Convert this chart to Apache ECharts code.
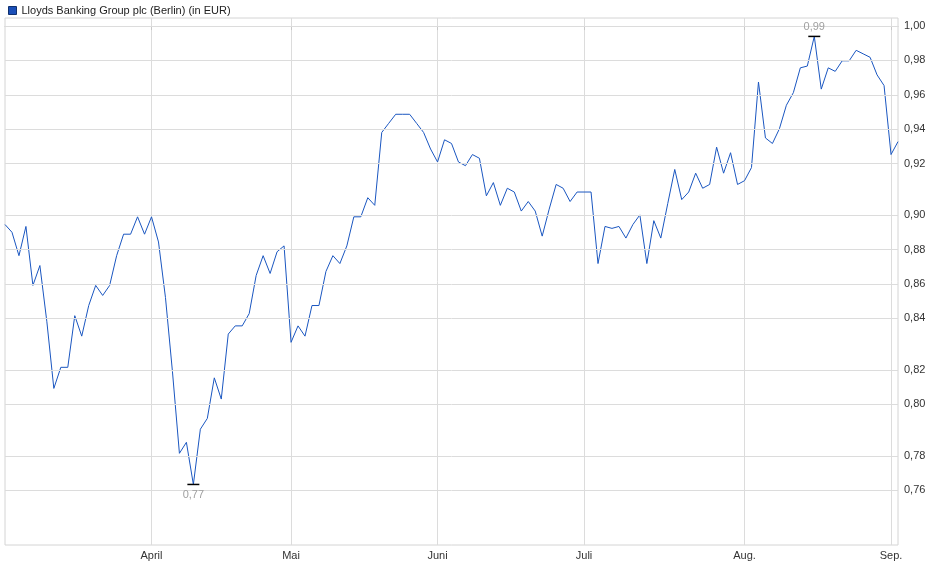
<!DOCTYPE html>
<html>
<head>
<meta charset="utf-8">
<script src="https://cdn.jsdelivr.net/npm/echarts@6/dist/echarts.min.js"></script>
<style>html,body{margin:0;padding:0;background:#fff}#c{width:940px;height:579px}</style>
</head>
<body>
<div id="c"></div>
<script>
// daily closes
const prices = [
  0.891, 0.887, 0.875, 0.890, 0.860, 0.870, 0.842, 0.810, 0.820, 0.820,
  0.845, 0.835, 0.850, 0.860, 0.855, 0.860, 0.875, 0.886, 0.886, 0.895,
  0.886, 0.895, 0.882, 0.854, 0.818, 0.780, 0.785, 0.766, 0.791, 0.796,
  0.815, 0.805, 0.836, 0.840, 0.840, 0.846, 0.865, 0.875, 0.866, 0.877,
  0.880, 0.832, 0.840,
  0.835, 0.850, 0.850, 0.867, 0.875, 0.871, 0.880, 0.895, 0.895, 0.905,
  0.901, 0.940, 0.945, 0.950, 0.950, 0.950, 0.945, 0.940, 0.931, 0.924,
  0.936, 0.934, 0.924, 0.922, 0.928, 0.926, 0.906, 0.913, 0.901, 0.910,
  0.908, 0.898, 0.903, 0.898, 0.885, 0.899, 0.912, 0.910, 0.903, 0.908,
  0.908, 0.908, 0.871, 0.890,
  0.889, 0.890, 0.884, 0.891, 0.896, 0.871, 0.893, 0.884, 0.902, 0.920,
  0.904, 0.908, 0.918, 0.910, 0.912, 0.932, 0.918, 0.929, 0.912, 0.914,
  0.921, 0.968, 0.937, 0.934, 0.942, 0.955, 0.962, 0.976, 0.977, 0.994,
  0.964, 0.976, 0.974, 0.980, 0.980, 0.986, 0.984, 0.982, 0.972, 0.966,
  0.928, 0.935
]
const monthTicks = [
  { index: 21, label: 'April' },
  { index: 41, label: 'Mai' },
  { index: 62, label: 'Juni' },
  { index: 83, label: 'Juli' },
  { index: 106, label: 'Aug.' },
  { index: 127, label: 'Sep.' }
]
const yTicks = [0.76, 0.78, 0.80, 0.82, 0.84, 0.86, 0.88, 0.90, 0.92, 0.94, 0.96, 0.98, 1.00]

const fmt = v => v.toFixed(2).replace('.', ',')
const tickIdx = monthTicks.map(m => m.index)
const categories = prices.map((p, i) => {
  const m = monthTicks.find(t => t.index === i)
  return m ? m.label : ''
})
const isTick = i => tickIdx.indexOf(i) >= 0

const chart = echarts.init(document.getElementById('c'))
chart.setOption({
  animation: false,
  textStyle: { fontFamily: 'Liberation Sans, Arial, sans-serif' },
  legend: {
    left: 3, top: 0, itemWidth: 8, itemHeight: 8, itemGap: 4,
    textStyle: { fontSize: 11, color: '#222' },
    data: [{ name: 'Lloyds Banking Group plc (Berlin) (in EUR)', icon: 'rect',
      itemStyle: { color: '#1a4fb8', borderColor: '#10306e', borderWidth: 1 } }]
  },
  grid: { left: 5, right: 42, top: 18, bottom: 34, show: true, borderColor: '#d4d4d4', borderWidth: 1 },
  xAxis: {
    type: 'category', data: categories, boundaryGap: false,
    axisLine: { lineStyle: { color: '#c8c8c8' } },
    axisTick: { interval: isTick, length: 4, lineStyle: { color: '#c8c8c8' } },
    axisLabel: { interval: isTick, fontSize: 11, color: '#333', margin: 5 },
    splitLine: { show: true, interval: isTick, lineStyle: { color: '#dcdcdc' } }
  },
  yAxis: {
    type: 'value', position: 'right',
    min: Math.log(0.7395), max: Math.log(1.0047),
    axisLine: { show: false }, axisTick: { show: false }, axisLabel: { show: false },
    splitLine: { show: false }
  },
  series: [{
    name: 'Lloyds Banking Group plc (Berlin) (in EUR)',
    type: 'line', symbol: 'none',
    data: prices.map(p => Math.log(p)),
    lineStyle: { color: '#1a56c0', width: 1 },
    itemStyle: { color: '#1a56c0' },
    markLine: {
      silent: true, symbol: 'none', animation: false,
      lineStyle: { color: '#dcdcdc', type: 'solid', width: 1 },
      label: { position: 'end', formatter: p => fmt(Math.exp(p.value)), color: '#333', fontSize: 11, distance: 6 },
      data: yTicks.map(t => ({ yAxis: Math.log(t) }))
    },
    markPoint: {
      symbol: 'rect', symbolSize: [12, 1.5],
      itemStyle: { color: '#000' },
      data: [
        { type: 'min', label: { position: 'bottom', distance: 4 } },
        { type: 'max', label: { position: 'top', distance: 3 } }
      ],
      label: { formatter: p => fmt(Math.exp(p.value)), color: '#a0a0a0', fontSize: 11 }
    }
  }]
})
</script>
</body>
</html>
